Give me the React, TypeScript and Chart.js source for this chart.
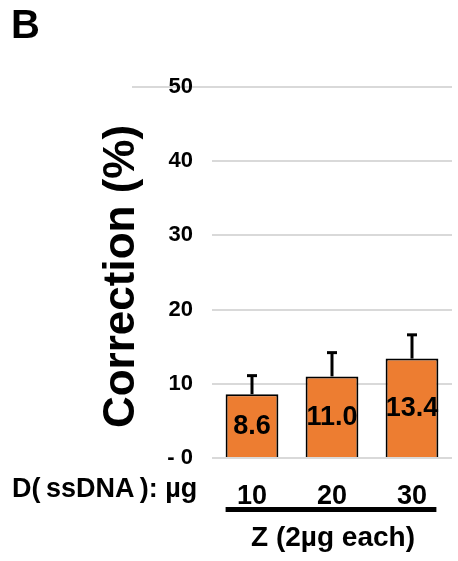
import React, { useEffect, useRef } from "react";
import { Chart, registerables } from "chart.js";

Chart.register(...registerables);

const categories = ["10", "20", "30"];
const correction = [8.6, 11.0, 13.4];
const errorUp = [2.5, 3.2, 3.2];
const yMin = 0;
const yMax = 50;
const yStep = 10;
const panelLabel = "B";
const yTitle = "Correction (%)";
const xRowLabel = "D(\u2009ssDNA\u2009): µg";
const groupLabel = "Z (2µg each)";

const FONT = "'Liberation Sans', Arial, Helvetica, sans-serif";

export default function App() {
  const ref = useRef<HTMLCanvasElement | null>(null);

  useEffect(() => {
    if (!ref.current) return;
    Chart.defaults.font.family = FONT;

    const extras = {
      id: "extras",
      beforeDraw(chart: any) {
        const { ctx, chartArea } = chart;
        const y = chart.scales.y;
        const yy = y.getPixelForValue(yMax);
        ctx.save();
        ctx.strokeStyle = "#d9d9d9";
        ctx.lineWidth = 2;
        ctx.beginPath();
        ctx.moveTo(132, yy);
        ctx.lineTo(chartArea.left, yy);
        ctx.stroke();
        ctx.restore();
      },
      afterDatasetsDraw(chart: any) {
        const { ctx } = chart;
        const y = chart.scales.y;
        const meta = chart.getDatasetMeta(0);
        ctx.save();
        meta.data.forEach((bar: any, i: number) => {
          const x = bar.x;
          const top = bar.y;
          const yErr = y.getPixelForValue(correction[i] + errorUp[i]);
          ctx.strokeStyle = "#000";
          ctx.lineWidth = 3;
          ctx.beginPath();
          ctx.moveTo(x, top);
          ctx.lineTo(x, yErr);
          ctx.stroke();
          ctx.beginPath();
          ctx.moveTo(x - 5, yErr);
          ctx.lineTo(x + 5, yErr);
          ctx.stroke();
          ctx.fillStyle = "#000";
          ctx.font = `bold 27px ${FONT}`;
          ctx.textAlign = "center";
          ctx.textBaseline = "middle";
          ctx.fillText(correction[i].toFixed(1), x, (bar.y + bar.base) / 2 + 1);
        });
        ctx.restore();
      },
      afterDraw(chart: any) {
        const { ctx } = chart;
        const meta = chart.getDatasetMeta(0);
        const first = meta.data[0];
        const last = meta.data[meta.data.length - 1];
        ctx.save();
        ctx.fillStyle = "#000";
        // panel letter
        ctx.font = `bold 40px ${FONT}`;
        ctx.textAlign = "left";
        ctx.textBaseline = "alphabetic";
        ctx.fillText(panelLabel, 11, 38);
        // y title
        ctx.save();
        ctx.translate(134, 276.5);
        ctx.rotate(-Math.PI / 2);
        ctx.font = `bold 44px ${FONT}`;
        ctx.textAlign = "center";
        ctx.fillText(yTitle, 0, 0);
        ctx.restore();
        // row label
        ctx.font = `bold 27px ${FONT}`;
        ctx.textAlign = "left";
        ctx.fillText(xRowLabel, 12, 497);
        // group line
        const x0 = first.x - first.width / 2;
        const x1 = last.x + last.width / 2 - 2;
        ctx.fillRect(x0, 507, x1 - x0, 5);
        // group label
        ctx.font = `bold 28px ${FONT}`;
        ctx.textAlign = "center";
        ctx.fillText(groupLabel, (x0 + x1) / 2 + 2, 546);
        ctx.restore();
      },
    };

    const chart = new Chart(ref.current, {
      type: "bar",
      data: {
        labels: categories,
        datasets: [
          {
            data: correction,
            backgroundColor: "#ED7D31",
            borderColor: "#000",
            borderWidth: 2,
            borderSkipped: "bottom",
            barPercentage: 0.66,
            categoryPercentage: 1,
          },
        ],
      },
      options: {
        animation: false,
        responsive: false,
        maintainAspectRatio: false,
        layout: { padding: { left: 0, right: 6, top: 87, bottom: 0 } },
        plugins: {
          legend: { display: false },
          tooltip: { enabled: false },
          title: { display: false },
        },
        scales: {
          x: {
            grid: { display: false },
            border: { display: false },
            ticks: {
              color: "#000",
              font: { size: 27, weight: "bold" },
              padding: 14,
            },
            afterFit: (s: any) => {
              s.height = 103;
            },
          },
          y: {
            min: yMin,
            max: yMax,
            grid: { color: "#d9d9d9", lineWidth: 2, drawTicks: false },
            border: { display: false },
            ticks: {
              stepSize: yStep,
              color: "#000",
              font: { size: 22, weight: "bold" },
              padding: 19,
              callback: (v: any) => (Number(v) === 0 ? "- 0" : String(v)),
            },
            afterFit: (s: any) => {
              s.width = 212;
            },
          },
        },
      },
      plugins: [extras],
    } as any);

    return () => chart.destroy();
  }, []);

  return (
    <div style={{ position: "absolute", left: 0, top: 0, width: 458, height: 561 }}>
      <canvas ref={ref} width={458} height={561} />
    </div>
  );
}
